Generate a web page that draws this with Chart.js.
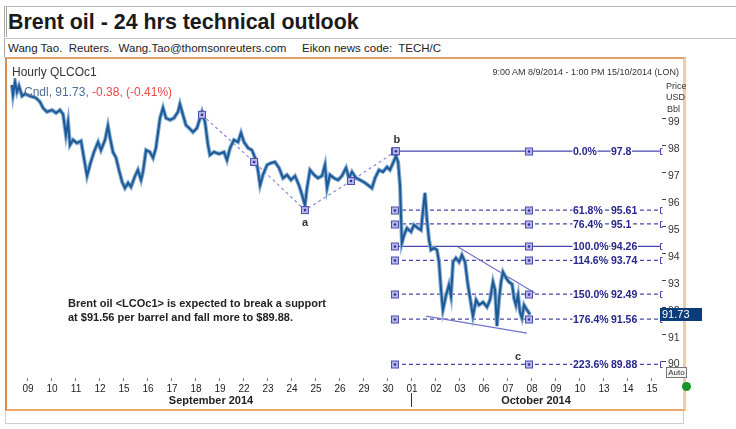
<!DOCTYPE html>
<html><head><meta charset="utf-8">
<script src="https://cdn.jsdelivr.net/npm/chart.js@4.4.1/dist/chart.umd.min.js"></script>
<style>
html,body{margin:0;padding:0;background:#fff;width:736px;height:429px;overflow:hidden;font-family:"Liberation Sans",Arial,sans-serif;}
.abs{position:absolute;white-space:nowrap;}
#titlebox{left:4px;top:6px;width:740px;height:31px;border-top:1px solid #b5b5b5;border-left:3px double #a8a8a8;box-sizing:border-box;}
#title{left:8px;top:9px;font-size:21.4px;font-weight:bold;color:#1a1a1a;line-height:26px;}
#subbox{left:4px;top:38px;width:740px;height:19px;border-top:1px solid #c5c5c5;border-left:1px solid #a8a8a8;box-sizing:border-box;}
.sub{top:41px;font-size:11.5px;color:#222;line-height:14px;}
#panel{left:5px;top:57px;width:681px;height:354px;box-sizing:border-box;border-top:2px solid #e0a066;border-left:2px solid #d68c4c;border-bottom:2px solid #eca86a;border-right:3px solid #f8c8a0;}
#botbox{left:5px;top:411px;width:679px;height:13px;box-sizing:border-box;border:1px solid #cfcfcf;border-top:none;}
#cv{position:absolute;left:7px;top:59px;}
.t9{font-size:9px;color:#333;}
</style></head>
<body>
<div id="titlebox" class="abs"></div>
<div id="title" class="abs">Brent oil - 24 hrs technical outlook</div>
<div id="subbox" class="abs"></div>
<div class="abs sub" style="left:8px;">Wang Tao.&nbsp; Reuters.&nbsp; Wang.Tao@thomsonreuters.com</div>
<div class="abs sub" style="left:302px;">Eikon news code:&nbsp; TECH/C</div>
<div id="panel" class="abs"></div>
<div id="botbox" class="abs"></div>
<canvas id="cv" width="677" height="350"></canvas>
<div class="abs" style="left:12px;top:65px;font-size:12px;color:#333;">Hourly QLCOc1</div>
<div class="abs" style="left:24px;top:85px;font-size:12px;"><span style="color:#4e6e96">Cndl, 91.73, </span><span style="color:#f04848">-0.38, (-0.41%)</span></div>
<div class="abs t9" style="right:57px;top:67px;">9:00 AM 8/9/2014 - 1:00 PM 15/10/2014 (LON)</div>
<div class="abs t9" style="left:666px;top:81px;">Price</div>
<div class="abs t9" style="left:666px;top:92px;">USD</div>
<div class="abs t9" style="left:667px;top:104px;">Bbl</div>
<div class="abs" style="left:68px;top:296px;font-size:11px;font-weight:bold;color:#222;line-height:14px;">Brent oil &lt;LCOc1&gt; is expected to break a support<br>at $91.56 per barrel and fall more to $89.88.</div>
<div class="abs" style="left:660px;top:308px;width:42px;height:13px;background:#0b3c7a;color:#fff;font-size:11px;line-height:13px;padding-left:2px;box-sizing:border-box;">91.73</div>
<div class="abs" style="left:666px;top:367px;width:21px;height:11px;border:1px solid #777;box-sizing:border-box;font-size:8px;line-height:9px;text-align:center;color:#333;background:#f4f4f4;">Auto</div>
<div class="abs" style="left:682px;top:382px;width:9px;height:9px;border-radius:50%;background:#17952a;"></div>
<div class="abs" style="left:211px;top:394px;transform:translateX(-50%);font-size:11px;font-weight:bold;color:#222;">September 2014</div>
<div class="abs" style="left:536px;top:394px;transform:translateX(-50%);font-size:11px;font-weight:bold;color:#222;">October 2014</div>
<div class="abs" style="left:411px;top:393px;width:1px;height:14px;background:#333;"></div>
<script>
// ---- data ----
const dayLabels = ['09','10','11','12','15','16','17','18','19','22','23','24','25','26','29','30','01','02','03','06','07','08','09','10','13','14','15'];
const priceDay = [0.33,0.375,0.46,0.54,0.625,0.75,0.875,1.08,1.33,1.5,1.625,1.79,2.0,2.17,2.33,2.46,2.58,2.67,2.75,2.875,3.04,3.21,3.33,3.46,3.58,3.75,3.92,4.04,4.21,4.33,4.42,4.54,4.67,4.79,4.92,5.04,5.17,5.29,5.46,5.58,5.71,5.79,5.92,6.08,6.21,6.33,6.5,6.625,6.75,6.92,7.08,7.25,7.33,7.46,7.58,7.71,7.875,8.04,8.17,8.25,8.375,8.5,8.58,8.75,8.96,9.17,9.29,9.42,9.58,9.75,9.875,10.0,10.17,10.33,10.5,10.58,10.67,10.79,10.96,11.125,11.29,11.46,11.625,11.79,11.96,12.125,12.29,12.42,12.54,12.625,12.75,12.92,13.08,13.25,13.375,13.46,13.58,13.75,13.92,14.08,14.25,14.375,14.5,14.67,14.83,15.0,15.17,15.33,15.46,15.625,15.79,15.96,16.08,16.21,16.33,16.42,16.5,16.54,16.58,16.67,16.79,16.96,17.08,17.25,17.375,17.46,17.54,17.625,17.71,17.79,17.92,18.04,18.125,18.21,18.29,18.42,18.54,18.625,18.71,18.83,18.96,19.08,19.21,19.33,19.42,19.54,19.67,19.79,19.96,20.125,20.25,20.375,20.46,20.54,20.625,20.71,20.79,20.92,21.04,21.17,21.25,21.33,21.42,21.5,21.58,21.67,21.79,21.92];
const priceVal = [100.26,99.89,100.37,100.00,100.22,99.85,99.93,99.85,99.78,99.63,99.41,99.26,99.33,99.22,99.33,99.18,98.40,98.89,98.03,98.22,98.10,98.18,97.55,96.88,97.29,97.77,98.14,97.84,98.22,98.74,98.29,97.77,97.55,97.10,96.66,96.43,96.62,96.47,96.88,97.10,96.73,97.03,97.84,97.77,97.55,97.92,99.03,99.41,99.03,98.96,99.03,99.26,99.55,99.14,98.77,98.66,98.51,98.66,99.03,99.26,98.89,98.03,97.66,97.77,97.70,97.77,97.47,97.92,98.22,98.14,98.48,98.14,97.92,97.84,97.47,97.10,96.54,96.92,97.29,97.36,97.40,97.18,96.80,96.92,96.73,96.88,96.54,96.17,95.80,96.43,97.10,96.92,96.80,96.88,97.29,96.43,96.92,96.80,96.73,96.88,97.18,96.80,97.03,96.80,96.73,96.65,96.54,96.43,96.80,97.10,97.03,97.21,97.10,97.36,97.62,97.40,96.54,95.43,94.39,94.68,94.94,94.80,95.06,94.94,94.87,95.61,96.25,95.24,94.50,94.13,94.20,94.13,93.68,92.64,91.90,92.45,92.83,92.42,93.68,93.83,93.68,93.94,93.68,92.83,92.34,91.67,92.27,92.08,92.19,92.01,92.27,92.94,92.64,91.30,92.27,92.94,93.31,93.09,92.94,92.86,92.34,92.08,92.45,91.82,91.60,92.08,91.90,91.73];
const waveDay = [8.25, 10.42, 12.54, 14.46, 16.33];
const wavePrice = [99.15, 97.40, 95.61, 96.69, 97.80];
const waveLetters = ['a', 'b', 'c'];
const letterDay = [12.54, 16.37, 21.42];
const letterPrice = [95.12, 98.22, 90.15];
const fibPct = ['0.0%','61.8%','76.4%','100.0%','114.6%','150.0%','176.4%','223.6%'];
const fibLevel = [97.8, 95.61, 95.1, 94.26, 93.74, 92.49, 91.56, 89.88];
const fibDays = [16.29, 21.875, 27.33]; // start, marker, end
const upperTrendDay = [18.92, 22.125];
const upperTrendPrice = [94.24, 92.53];
const lowerTrendDay = [17.58, 21.79];
const lowerTrendPrice = [91.67, 91.04];

// ---- build ----
const n = Math.min(priceDay.length, priceVal.length);
const pricePts = [];
for (let i = 0; i < n; i++) pricePts.push({x: priceDay[i], y: priceVal[i]});
const FIB = '#4646ae';
const datasets = [
  {data: pricePts, borderColor: '#85aad0', borderWidth: 4, pointRadius: 0, order: 2},
  {data: pricePts, borderColor: '#1b5a96', borderWidth: 2, pointRadius: 0, order: 1},
  {data: waveDay.map((d,i)=>({x:d,y:wavePrice[i]})), borderColor:'#8a8ae0', borderWidth:1.2, borderDash:[3,3], pointRadius:0, order:3},
  {data: upperTrendDay.map((d,i)=>({x:d,y:upperTrendPrice[i]})), borderColor:'#7373c8', borderWidth:1.2, pointRadius:0, order:3},
  {data: lowerTrendDay.map((d,i)=>({x:d,y:lowerTrendPrice[i]})), borderColor:'#7373c8', borderWidth:1.2, pointRadius:0, order:3}
];
fibLevel.forEach((lv,i)=>{
  const solid = fibPct[i] === '0.0%' || fibPct[i] === '100.0%';
  datasets.push({data:[{x:fibDays[0],y:lv},{x:fibDays[2],y:lv}], borderColor:FIB, borderWidth:1.3, borderDash: solid?[]:[4,3], pointRadius:0, order:4});
});

function marker(ctx, x, y){
  ctx.fillStyle = '#b6b6f0'; ctx.strokeStyle = '#4c4ca6'; ctx.lineWidth = 1;
  ctx.fillRect(x-3.5, y-3.5, 7, 7); ctx.strokeRect(x-3.5, y-3.5, 7, 7);
  ctx.fillStyle = '#33338a'; ctx.beginPath(); ctx.arc(x, y, 1.3, 0, Math.PI*2); ctx.fill();
}
const overlay = {
  id: 'overlay',
  afterDatasetsDraw(chart){
    const {ctx, scales:{x, y}, chartArea:ca} = chart;
    ctx.save();
    ctx.font = 'bold 10.5px "Liberation Sans", Arial, sans-serif';
    ctx.textBaseline = 'middle';
    fibLevel.forEach((lv,i)=>{
      const py = Math.round(y.getPixelForValue(lv)) + 0.5;
      const t1 = fibPct[i], t2 = String(lv);
      const x1 = ca.right - 89, x2 = ca.right - 51;
      const w1 = ctx.measureText(t1).width, w2 = ctx.measureText(t2).width;
      ctx.fillStyle = '#fff';
      ctx.fillRect(x1-0.5, py-6, w1+1, 12);
      ctx.fillRect(x2-0.5, py-6, w2+1, 12);
      ctx.fillStyle = '#25258c';
      ctx.fillText(t1, x1, py+0.5);
      ctx.fillText(t2, x2, py+0.5);
      marker(ctx, x.getPixelForValue(fibDays[0]), py);
      marker(ctx, x.getPixelForValue(fibDays[1]), py);
      const ex = Math.round(x.getPixelForValue(fibDays[2])) + 0.5;
      ctx.strokeStyle = FIB; ctx.lineWidth = 1;
      ctx.beginPath(); ctx.moveTo(ex+2, py-3); ctx.lineTo(ex, py-3); ctx.lineTo(ex, py+3); ctx.lineTo(ex+2, py+3); ctx.stroke();
    });
    waveDay.forEach((d,i)=>marker(ctx, x.getPixelForValue(d), y.getPixelForValue(wavePrice[i])));
    ctx.font = 'bold 11px "Liberation Sans", Arial, sans-serif';
    ctx.fillStyle = '#333'; ctx.textAlign = 'center';
    waveLetters.forEach((t,i)=>ctx.fillText(t, x.getPixelForValue(letterDay[i]), y.getPixelForValue(letterPrice[i])));
    ctx.restore();
  }
};

new Chart(document.getElementById('cv'), {
  type: 'line',
  data: {datasets},
  plugins: [overlay],
  options: {
    responsive: false, animation: false, devicePixelRatio: 1,
    layout: {padding: {left: 1, top: 19, right: 0, bottom: 0}},
    plugins: {legend: {display: false}, tooltip: {enabled: false}},
    elements: {line: {tension: 0}},
    scales: {
      x: {
        type: 'linear', min: 0.1667, max: 27.4167,
        afterBuildTicks: s => { s.ticks = dayLabels.map((_,i)=>({value:i+1})); },
        afterFit: s => { s.height = 31; },
        ticks: {autoSkip:false, maxRotation:0, padding:2, color:'#222', font:{size:10, family:'"Liberation Sans", Arial'}, callback: v => dayLabels[v-1]},
        grid: {drawOnChartArea:false, drawTicks:true, tickLength:3, color:'#777'},
        border: {display:false}
      },
      y: {
        type: 'linear', position: 'right', min: 89.37, max: 100.52,
        afterBuildTicks: s => { const t=[]; for (let v=90; v<=99; v++) t.push({value:v}); s.ticks = t; },
        afterFit: s => { s.width = 22; },
        ticks: {padding:2, labelOffset:3.5, color:'#333', font:{size:10.5, family:'"Liberation Sans", Arial'}},
        grid: {drawOnChartArea:false, drawTicks:true, tickLength:4, color:'#444'},
        border: {display:false}
      }
    }
  }
});
</script>
</body></html>
